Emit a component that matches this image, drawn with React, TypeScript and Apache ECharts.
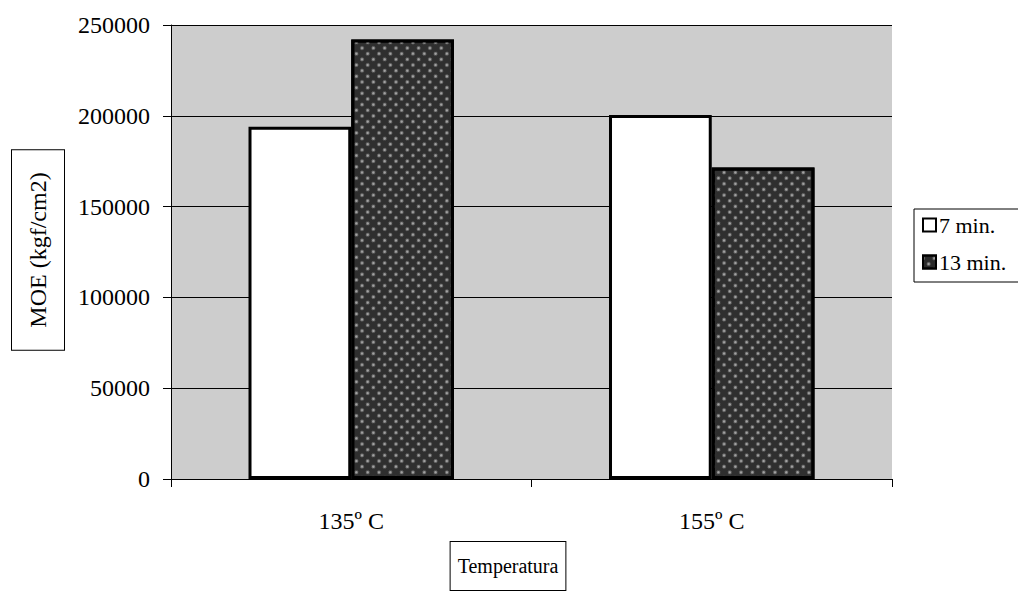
import React, { useEffect, useRef } from "react";
import * as echarts from "echarts";

const categories = ["135º C", "155º C"];
const seriesNames = ["7 min.", "13 min."];
const values7 = [194000, 200500];
const values13 = [242000, 171500];
const yTicks = { min: 0, max: 250000, interval: 50000 };
const yTitle = "MOE (kgf/cm2)";
const xTitle = "Temperatura";

const FONT = "'Liberation Serif', 'Times New Roman', serif";

const darkDecal = {
  symbol: "circle",
  symbolSize: 0.8,
  color: "rgba(255,255,255,0.55)",
  dashArrayX: 4,
  dashArrayY: 4,
  rotation: Math.PI / 4,
};

export default function App() {
  const ref = useRef<HTMLDivElement>(null);
  useEffect(() => {
    document.body.style.margin = "0";
    const chart = echarts.init(ref.current!, null, { renderer: "svg" });
    chart.setOption({
      animation: false,
      backgroundColor: "#ffffff",
      textStyle: { fontFamily: FONT, color: "#000" },
      grid: {
        left: 171,
        top: 25,
        width: 721,
        height: 454,
        show: true,
        backgroundColor: "#cdcdcd",
        borderWidth: 0,
      },
      legend: {
        orient: "vertical",
        left: 914,
        top: 209,
        icon: "rect",
        itemWidth: 13,
        itemHeight: 13,
        itemGap: 13,
        padding: [4, 40, 8, 8],
        borderColor: "#000",
        borderWidth: 1,
        backgroundColor: "#fff",
        textStyle: {
          fontFamily: FONT,
          fontSize: 22,
          lineHeight: 24,
          color: "#000",
          padding: [0, 0, 0, -2],
        },
        data: [
          { name: seriesNames[0], itemStyle: { color: "#fff", borderColor: "#000", borderWidth: 2 } },
          { name: seriesNames[1], itemStyle: { color: "#2a2a2a", borderColor: "#000", borderWidth: 2, decal: darkDecal } },
        ],
      },
      xAxis: {
        type: "category",
        data: categories,
        axisLine: { lineStyle: { color: "#000", width: 1 } },
        axisTick: { show: true, alignWithLabel: false, length: 8, lineStyle: { color: "#000" } },
        axisLabel: { fontFamily: FONT, fontSize: 24, color: "#000", margin: 30 },
        splitLine: { show: false },
      },
      yAxis: {
        type: "value",
        min: yTicks.min,
        max: yTicks.max,
        interval: yTicks.interval,
        axisLine: { show: true, lineStyle: { color: "#000", width: 1 } },
        axisTick: { show: true, length: 8, lineStyle: { color: "#000" } },
        axisLabel: {
          fontFamily: FONT,
          fontSize: 24,
          color: "#000",
          margin: 21,
          formatter: (v: number) => String(v),
        },
        splitLine: { show: true, lineStyle: { color: "#000", width: 1 } },
      },
      series: [
        {
          name: seriesNames[0],
          type: "bar",
          data: values7,
          barGap: "0%",
          barCategoryGap: "43%",
          itemStyle: { color: "#ffffff", borderColor: "#000", borderWidth: 3 },
        },
        {
          name: seriesNames[1],
          type: "bar",
          data: values13,
          itemStyle: {
            color: "#2f2f2f",
            borderColor: "#000",
            borderWidth: 3,
            decal: darkDecal,
          },
        },
      ],
      graphic: [
        {
          type: "text",
          x: 38,
          y: 250,
          rotation: Math.PI / 2,
          style: {
            text: yTitle,
            fontFamily: FONT,
            fontSize: 24,
            fill: "#000",
            align: "center",
            verticalAlign: "middle",
            borderColor: "#000",
            borderWidth: 1,
            padding: [15, 22, 13, 22],
            backgroundColor: "#fff",
          },
        },
        {
          type: "text",
          x: 508,
          y: 566,
          style: {
            text: xTitle,
            fontFamily: FONT,
            fontSize: 20,
            fill: "#000",
            align: "center",
            verticalAlign: "middle",
            borderColor: "#000",
            borderWidth: 1,
            padding: [15, 7, 13, 7],
            backgroundColor: "#fff",
          },
        },
      ],
    });
    return () => chart.dispose();
  }, []);
  return <div ref={ref} style={{ width: 1018, height: 591 }} />;
}
